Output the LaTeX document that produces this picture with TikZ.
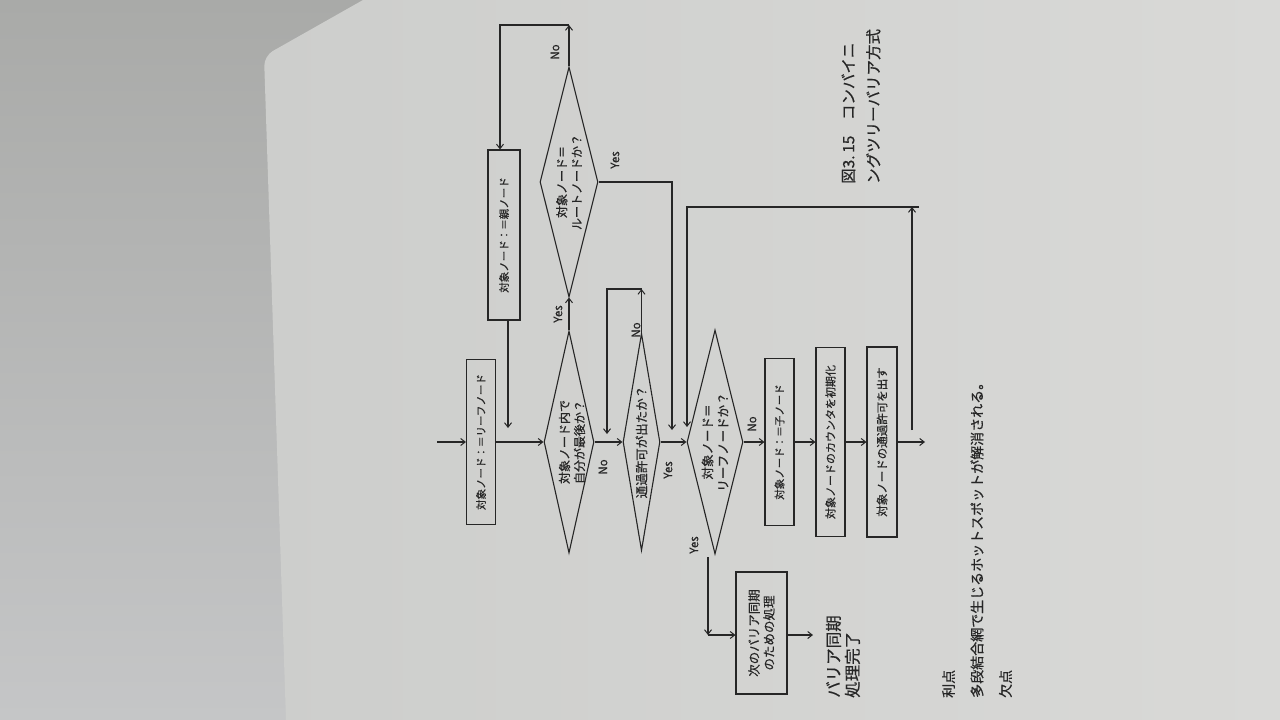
\documentclass[tikz,border=0pt]{standalone}
\usepackage{fontspec}
\setmainfont{Noto Sans CJK JP}[FakeBold=0.5]
\usetikzlibrary{shapes.geometric,arrows.meta}
\definecolor{ink}{HTML}{262626}
\definecolor{bgA}{HTML}{A9AAA8}
\definecolor{bgB}{HTML}{C5C6C7}
\definecolor{pageA}{HTML}{CDCECC}
\definecolor{pageB}{HTML}{D9D9D7}
\tikzset{
  ln/.style={draw=ink, line width=1.2pt},
  arr/.style={ln, -{Straight Barb[length=4.5pt,width=7pt,line width=1pt]}},
  box/.style={draw=ink, line width=1.1pt, rectangle, inner sep=0pt},
  dia/.style={draw=ink, line width=1.1pt, diamond, inner sep=0pt},
  rt/.style={rotate=90, text=ink, inner sep=0pt},
  btext/.style={rt, font=\fontsize{10.5}{13}\selectfont},
  dtext/.style={rt, align=center, font=\fontsize{12}{15}\selectfont},
  yn/.style={rt, font=\fontsize{11.5}{13}\selectfont},
}
\begin{document}
\begin{tikzpicture}[x=1pt,y=-1pt]
\useasboundingbox (0,0) rectangle (1280,720);
% background and page
\shade[top color=bgA, bottom color=bgB] (0,0) rectangle (1280,720);
\shade[left color=pageA, right color=pageB]
  (363,0) -- (1280,0) -- (1280,720) -- (286,720) [rounded corners=10pt] -- (264,56) [sharp corners] -- (363,0) -- cycle;

% boxes
\node[box, minimum width=29pt, minimum height=165pt] (b1) at (481,442) {};
\node[btext] (b1t) at (b1) {対象ノード：＝リーフノード};
\node[box, minimum width=32pt, minimum height=170pt] (b2) at (504,235) {};
\node[btext] (b2t) at (b2) {対象ノード：＝親ノード};
\node[box, minimum width=29pt, minimum height=167pt] (b3) at (779.5,442) {};
\node[btext] (b3t) at (b3) {対象ノード：＝子ノード};
\node[box, minimum width=29pt, minimum height=189pt] (b4) at (830.5,442) {};
\node[rt, font=\fontsize{11}{13}\selectfont] (b4t) at (b4) {対象ノードのカウンタを初期化};
\node[box, minimum width=30pt, minimum height=190pt] (b5) at (882,442) {};
\node[rt, font=\fontsize{11.5}{13}\selectfont] (b5t) at (b5) {対象ノードの通過許可を出す};
\node[box, minimum width=51pt, minimum height=122pt] (b6) at (761.5,633) {};
\node[rt, align=center, font=\fontsize{12.5}{15}\selectfont] (b6t) at (b6) {次のバリア同期\\のための処理};

% diamonds
\node[dia, minimum width=50pt, minimum height=222pt] (d1) at (569,442) {};
\node[dtext] (d1t) at (572,442) {対象ノード内で\\自分が最後か？};
\node[dia, minimum width=58pt, minimum height=230pt] (d2) at (569,182) {};
\node[dtext] (d2t) at (d2) {対象ノード＝\\ルートノードか？};
\node[dia, minimum width=37pt, minimum height=217pt] (d3) at (641.5,442) {};
\node[rt, font=\fontsize{12.5}{15}\selectfont] (d3t) at (d3) {通過許可が出たか？};
\node[dia, minimum width=56pt, minimum height=224pt] (d4) at (715,442) {};
\node[dtext, font=\fontsize{12.5}{15.5}\selectfont] (d4t) at (d4) {対象ノード＝\\リーフノードか？};

% free texts
\node[rt, anchor=west, align=left, font=\fontsize{16.5}{19}\selectfont] (fin) at (843,698) {バリア同期\\処理完了};
\node[rt, anchor=west, align=left, font=\fontsize{15.5}{25}\selectfont] (cap) at (861,184) {図3.\,15　コンバイニ\\ングツリーバリア方式};
\node[rt, anchor=west, align=left, font=\fontsize{14}{28.5}\selectfont] (notes) at (977,698) {利点\\多段結合網で生じるホットスポットが解消される。\\欠点};

% coordinates
\coordinate (s0) at (437,442);
\coordinate (jb2) at (508,428);
\coordinate (c21) at (569,25);
\coordinate (c22) at (500,25);
\coordinate (c23) at (672,182);
\coordinate (jy2) at (672,430);
\coordinate (c31) at (641.5,289);
\coordinate (c32) at (607,289);
\coordinate (jn3) at (607,434);
\coordinate (l0) at (912,430);
\coordinate (l1) at (912,207);
\coordinate (l1x) at (919,207);
\coordinate (l2) at (687,207);
\coordinate (jl) at (687,427);
\coordinate (e0) at (925,442);
\coordinate (c41) at (708,557);
\coordinate (c42) at (708,635);
\coordinate (fa) at (813,635);

% connectors
\draw[arr] (s0) -- (b1.west);
\draw[arr] (b1.east) -- (d1.west);
\draw[arr] ([xshift=4pt]b2.south) -- (jb2);
\draw[arr] (d1.north) -- (d2.south);
\draw[arr] (d2.north) -- (c21);
\draw[arr] (c21) -- (c22) -- ([xshift=-4pt]b2.north);
\draw[arr] (d2.east) -- (c23) -- (jy2);
\draw[arr] (d1.east) -- (d3.west);
\draw[arr] (d3.north) -- (c31);
\draw[arr] (c31) -- (c32) -- (jn3);
\draw[arr] (d3.east) -- (d4.west);
\draw[arr] (d4.east) -- (b3.west);
\draw[arr] (b3.east) -- (b4.west);
\draw[arr] (b4.east) -- (b5.west);
\draw[arr] (b5.east) -- (e0);
\draw[arr] (l0) -- (l1);
\draw[arr] (l1x) -- (l2) -- (jl);
\draw[arr] (c41) -- (c42);
\draw[arr] (c42) -- (b6.west |- c42);
\draw[arr] (b6.east |- fa) -- (fa);

% yes / no labels
\node[yn] (y1) at (558,314) {Yes};
\node[yn] (n2) at (555,52) {No};
\node[yn] (y2) at (615,160) {Yes};
\node[yn] (n1) at (603,467) {No};
\node[yn] (n3) at (636,330) {No};
\node[yn] (y3) at (668,470) {Yes};
\node[yn] (n4) at (752,424) {No};
\node[yn] (y4) at (694,545) {Yes};
\end{tikzpicture}
\end{document}
